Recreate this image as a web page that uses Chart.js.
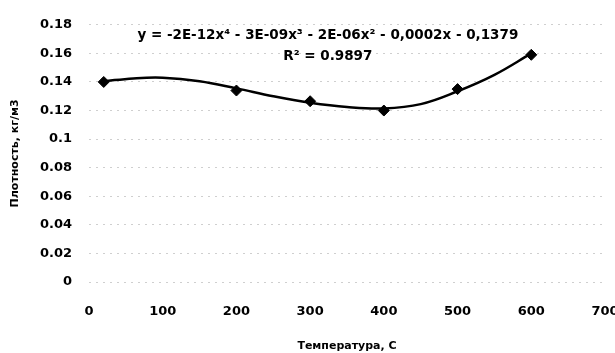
<!DOCTYPE html>
<html>
<head>
<meta charset="utf-8">
<script src="https://cdn.jsdelivr.net/npm/chart.js@4"></script>
<style>
  html, body { margin: 0; padding: 0; background: #fff; }
  #wrap { width: 615px; height: 353px; }
</style>
</head>
<body>
<div id="wrap"><canvas id="ScatterChart"></canvas></div>
<script>
// measured points
var temperatura = [20, 200, 300, 400, 500, 600];
var plotnost = [0.140, 0.134, 0.1265, 0.120, 0.135, 0.159];

// trendline
var trendX = [20, 60, 100, 150, 200, 250, 300, 350, 400, 450, 500, 550, 600];
var trendY = [0.1405, 0.1425, 0.143, 0.1405, 0.1355, 0.130, 0.1255, 0.1225, 0.1215, 0.1245, 0.1335, 0.145, 0.160];

var xTicks = [0, 100, 200, 300, 400, 500, 600, 700];
var yTicks = [0, 0.02, 0.04, 0.06, 0.08, 0.1, 0.12, 0.14, 0.16, 0.18];

var ecuacion = 'y = -2E-12x\u2074 - 3E-09x\u00b3 - 2E-06x\u00b2 - 0,0002x - 0,1379';
var r2 = 'R\u00b2 = 0.9897';

var fuente = 'DejaVu Sans';

function toPoints(xs, ys) {
    return xs.map(function(x, i) { return { x: x, y: ys[i] }; });
}

// texto de la ecuación sobre el gráfico
var etiquetaTendencia = {
    id: 'etiquetaTendencia',
    afterDatasetsDraw: function(chart) {
        var c = chart.ctx;
        var xs = chart.scales.x, ys = chart.scales.y;
        c.save();
        c.fillStyle = '#000';
        c.textAlign = 'center';
        c.textBaseline = 'middle';
        c.font = 'bold 13.5px "' + fuente + '"';
        c.fillText(ecuacion, xs.getPixelForValue(324), ys.getPixelForValue(0.1725));
        c.fillText(r2, xs.getPixelForValue(324), ys.getPixelForValue(0.1575));
        c.restore();
    }
};

document.addEventListener('DOMContentLoaded', function() {
    var ctx = document.getElementById('ScatterChart').getContext('2d');
    var ScatterChart = new Chart(ctx, {
        type: 'scatter',
        data: {
            datasets: [{
                label: 'Тренд',
                data: toPoints(trendX, trendY),
                showLine: true,
                borderColor: '#000',
                borderWidth: 2.5,
                tension: 0.4,
                pointRadius: 0
            }, {
                label: 'Плотность',
                data: toPoints(temperatura, plotnost),
                backgroundColor: '#000',
                borderColor: '#000',
                pointStyle: 'rectRot',
                pointRadius: 5.5,
                showLine: false
            }]
        },
        options: {
            responsive: true,
            maintainAspectRatio: false,
            animation: false,
            layout: { padding: { top: 22, right: 10, left: 0, bottom: 0 } },
            plugins: {
                legend: { display: false },
                tooltip: { enabled: false }
            },
            scales: {
                x: {
                    type: 'linear',
                    min: 0,
                    max: 700,
                    afterBuildTicks: function(s) { s.ticks = xTicks.map(function(v) { return { value: v }; }); },
                    afterFit: function(s) { s.height = 71; s.paddingLeft = 0; s.paddingRight = 0; },
                    grid: { display: false, drawTicks: false },
                    border: { display: false },
                    ticks: {
                        padding: 22,
                        color: '#000',
                        maxRotation: 0,
                        font: { family: fuente, weight: 'bold', size: 13 }
                    },
                    title: {
                        display: true,
                        text: 'Температура, С',
                        color: '#000',
                        padding: { top: 14, bottom: 0 },
                        font: { family: fuente, weight: 'bold', size: 11 }
                    }
                },
                y: {
                    min: 0,
                    max: 0.18,
                    afterBuildTicks: function(s) { s.ticks = yTicks.map(function(v) { return { value: v }; }); },
                    afterFit: function(s) { s.width = 89; },
                    grid: { color: '#cfcfcf', lineWidth: 1, drawTicks: false },
                    border: { display: false, dash: [2, 5] },
                    ticks: {
                        padding: 17,
                        color: '#000',
                        font: { family: fuente, weight: 'bold', size: 13 },
                        callback: function(v) { return String(Math.round(v * 100) / 100); }
                    },
                    title: {
                        display: true,
                        text: 'Плотность, кг/м3',
                        color: '#000',
                        padding: { top: 9, bottom: 0 },
                        font: { family: fuente, weight: 'bold', size: 11 }
                    }
                }
            }
        },
        plugins: [etiquetaTendencia]
    });
});
</script>
</body>
</html>
